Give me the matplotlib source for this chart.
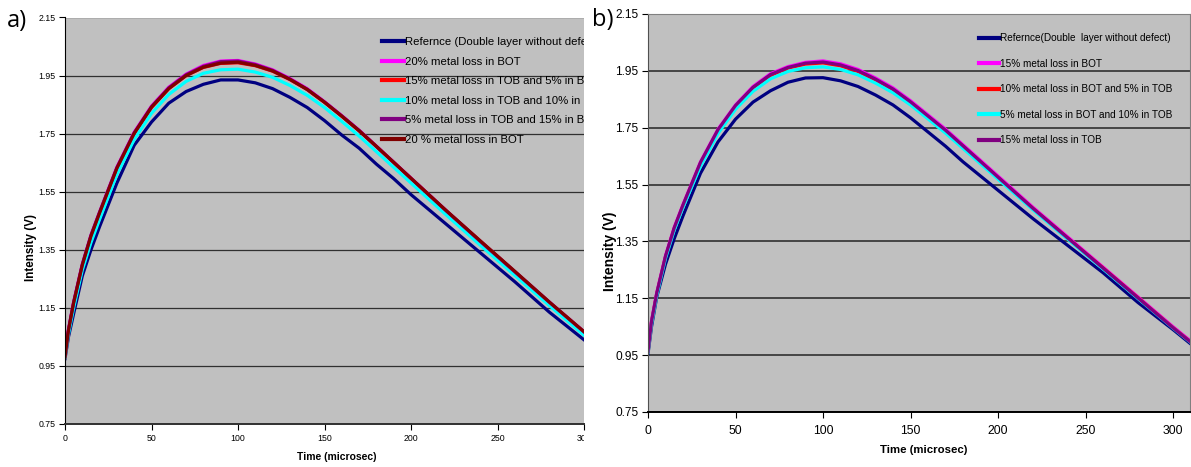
import matplotlib
matplotlib.use("Agg")
import matplotlib.pyplot as plt
from matplotlib.transforms import Bbox, TransformedBbox

#----data----
x_a = [0, 2, 5, 10, 15, 20, 30, 40, 50, 60, 70, 80, 90, 100, 110, 120, 130,
       140, 150, 160, 170, 180, 190, 200, 220, 240, 260, 280, 300]
ref_a = [0.975, 1.05, 1.13, 1.26, 1.35, 1.43, 1.58, 1.71, 1.79, 1.855, 1.895, 1.92,
         1.935, 1.935, 1.925, 1.905, 1.875, 1.84, 1.795, 1.745, 1.70, 1.645, 1.595,
         1.54, 1.44, 1.34, 1.24, 1.135, 1.04]
bot20_a = [0.985, 1.075, 1.17, 1.30, 1.40, 1.48, 1.635, 1.755, 1.845, 1.91, 1.955,
           1.985, 2.0, 2.002, 1.99, 1.97, 1.94, 1.905, 1.86, 1.812, 1.762, 1.707,
           1.652, 1.597, 1.487, 1.38, 1.275, 1.17, 1.068]
tob15_a = [0.98, 1.07, 1.165, 1.295, 1.395, 1.475, 1.63, 1.75, 1.84, 1.905, 1.95,
           1.978, 1.992, 1.994, 1.984, 1.965, 1.936, 1.902, 1.858, 1.81, 1.76, 1.706,
           1.651, 1.596, 1.486, 1.38, 1.274, 1.168, 1.066]
tob10_a = [0.98, 1.06, 1.15, 1.28, 1.375, 1.455, 1.61, 1.73, 1.82, 1.885, 1.93,
           1.958, 1.97, 1.972, 1.962, 1.944, 1.916, 1.882, 1.84, 1.792, 1.742, 1.688,
           1.634, 1.58, 1.472, 1.366, 1.262, 1.158, 1.056]
tob5_a = [0.985, 1.075, 1.17, 1.30, 1.40, 1.48, 1.633, 1.753, 1.843, 1.908, 1.953,
          1.982, 1.998, 2.0, 1.988, 1.968, 1.938, 1.903, 1.859, 1.811, 1.761, 1.706,
          1.651, 1.596, 1.486, 1.379, 1.274, 1.169, 1.067]
bot20b_a = [0.982, 1.072, 1.167, 1.297, 1.397, 1.477, 1.631, 1.751, 1.841, 1.905,
            1.95, 1.979, 1.993, 1.996, 1.985, 1.966, 1.937, 1.902, 1.858, 1.81, 1.76,
            1.706, 1.651, 1.596, 1.487, 1.381, 1.276, 1.170, 1.068]

x_b = [0, 2, 5, 10, 15, 20, 30, 40, 50, 60, 70, 80, 90, 100, 110, 120, 130, 140,
       150, 160, 170, 180, 190, 200, 220, 240, 260, 280, 300, 310]
ref_b = [0.955, 1.05, 1.155, 1.27, 1.36, 1.44, 1.59, 1.70, 1.78, 1.84, 1.88, 1.91,
         1.925, 1.926, 1.915, 1.895, 1.865, 1.83, 1.785, 1.735, 1.685, 1.63, 1.58,
         1.53, 1.43, 1.335, 1.24, 1.135, 1.04, 0.99]
bot15_b = [0.965, 1.07, 1.17, 1.30, 1.40, 1.48, 1.63, 1.745, 1.83, 1.895, 1.94,
           1.965, 1.98, 1.985, 1.975, 1.955, 1.925, 1.89, 1.845, 1.795, 1.745, 1.69,
           1.635, 1.58, 1.47, 1.365, 1.26, 1.155, 1.05, 1.0]
bot10_b = [0.962, 1.065, 1.165, 1.295, 1.395, 1.475, 1.625, 1.74, 1.825, 1.89,
           1.934, 1.96, 1.974, 1.978, 1.968, 1.948, 1.918, 1.883, 1.839, 1.789,
           1.739, 1.685, 1.63, 1.575, 1.466, 1.361, 1.257, 1.152, 1.047, 0.997]
bot5_b = [0.96, 1.06, 1.16, 1.29, 1.39, 1.47, 1.615, 1.73, 1.815, 1.878, 1.922,
          1.948, 1.961, 1.964, 1.955, 1.936, 1.907, 1.873, 1.83, 1.781, 1.731, 1.677,
          1.623, 1.569, 1.461, 1.357, 1.253, 1.149, 1.045, 0.995]
tob15_b = [0.963, 1.068, 1.168, 1.298, 1.398, 1.478, 1.628, 1.743, 1.828, 1.892,
           1.937, 1.962, 1.977, 1.981, 1.971, 1.951, 1.921, 1.886, 1.841, 1.791,
           1.741, 1.686, 1.631, 1.576, 1.466, 1.361, 1.256, 1.151, 1.046, 0.996]

labels_a = ["Refernce (Double layer without defect)", "20% metal loss in BOT",
            "15% metal loss in TOB and 5% in BOT", "10% metal loss in TOB and 10% in BOT",
            "5% metal loss in TOB and 15% in BOT", "20 % metal loss in BOT"]
labels_b = ["Refernce(Double  layer without defect)", "15% metal loss in BOT",
            "10% metal loss in BOT and 5% in TOB", "5% metal loss in BOT and 10% in TOB",
            "15% metal loss in TOB"]
colors_a = ["#000080", "#FF00FF", "#FF0000", "#00FFFF", "#800080", "#800000"]
colors_b = ["#000080", "#FF00FF", "#FF0000", "#00FFFF", "#800080"]
yticks = [0.75, 0.95, 1.15, 1.35, 1.55, 1.75, 1.95, 2.15]

REG = ["Liberation Sans", "DejaVu Sans"]

W, H = 1191, 467
fig = plt.figure(figsize=(W / 100, H / 100), dpi=100)
fig.patch.set_facecolor("white")


def px_axes(x0, y0, x1, y1):
    return fig.add_axes([x0 / W, 1 - y1 / H, (x1 - x0) / W, (y1 - y0) / H])


#----panel a----
axa = px_axes(65, 17.5, 584, 424)
axa.set_facecolor("#C0C0C0")
series_a = [ref_a, bot20_a, tob15_a, tob10_a, tob5_a, bot20b_a]
for ys, c, lab in zip(series_a, colors_a, labels_a):
    axa.plot(x_a, ys, color=c, lw=2.3, label=lab, solid_joinstyle="round")
axa.set_xlim(0, 300)
axa.set_ylim(0.75, 2.15)
axa.set_yticks(yticks)
axa.set_yticklabels(["%.2f" % v for v in yticks])
axa.set_xticks([0, 50, 100, 150, 200, 250, 300])
axa.yaxis.grid(True, color="#303030", lw=0.9)
axa.set_axisbelow(True)
for s in ["right", "top"]:
    axa.spines[s].set_visible(False)
axa.spines["left"].set_color("black")
axa.spines["bottom"].set_color("#303030")
axa.spines["bottom"].set_linewidth(1.4)
axa.tick_params(direction="out", length=4, width=0.8, labelsize=6.3, pad=3)
for t in axa.get_xticklabels() + axa.get_yticklabels():
    t.set_family(REG)
axa.set_xlabel("Time (microsec)", fontsize=7.5, fontweight="bold", family=REG)
axa.xaxis.set_label_coords(0.524, -0.07)
axa.set_ylabel("Intensity (V)", fontsize=8.4, fontweight="bold", family=REG)
axa.yaxis.set_label_coords(-0.054, 0.435)

clip_a = TransformedBbox(Bbox([[0, 0], [584 / W, 1]]), fig.transFigure)
for t in axa.get_xticklabels():
    t.set_clip_box(clip_a)
    t.set_clip_on(True)

leg_a = axa.legend(loc="upper left", bbox_to_anchor=(0.611, 0.951), frameon=False,
                   borderaxespad=0, borderpad=0, handlelength=1.9, handletextpad=0.15,
                   labelspacing=0.83, prop={"family": REG, "size": 8.2})
for ln in leg_a.get_lines():
    ln.set_linewidth(3)
for t in leg_a.get_texts():
    t.set_clip_box(clip_a)
    t.set_clip_on(True)

#----panel b----
axb = px_axes(648, 14, 1190, 412)
axb.set_facecolor("#C0C0C0")
series_b = [ref_b, bot15_b, bot10_b, bot5_b, tob15_b]
for ys, c, lab in zip(series_b, colors_b, labels_b):
    axb.plot(x_b, ys, color=c, lw=2.3, label=lab, solid_joinstyle="round")
axb.set_xlim(0, 309.7)
axb.set_ylim(0.75, 2.15)
axb.set_yticks(yticks)
axb.set_yticklabels(["%.2f" % v for v in yticks])
axb.set_xticks([0, 50, 100, 150, 200, 250, 300])
axb.yaxis.grid(True, color="#303030", lw=1.2)
axb.set_axisbelow(True)
for s in ["right", "top"]:
    axb.spines[s].set_color("#808080")
axb.spines["left"].set_color("#505050")
axb.spines["bottom"].set_color("black")
axb.spines["bottom"].set_linewidth(1.4)
axb.tick_params(direction="out", length=4, width=0.8)
axb.tick_params(axis="y", labelsize=8.6, pad=3)
axb.tick_params(axis="x", labelsize=8.8, pad=5)
for t in axb.get_xticklabels() + axb.get_yticklabels():
    t.set_family(REG)
axb.set_xlabel("Time (microsec)", fontsize=8.2, fontweight="bold", family=REG)
axb.xaxis.set_label_coords(0.509, -0.083)
axb.set_ylabel("Intensity (V)", fontsize=10, fontweight="bold", family=REG)
axb.yaxis.set_label_coords(-0.058, 0.405)

leg_b = axb.legend(loc="upper left", bbox_to_anchor=(0.611, 0.952), frameon=False,
                   borderaxespad=0, borderpad=0, handlelength=2.0, handletextpad=0.1,
                   labelspacing=1.55, prop={"family": REG, "size": 7.2})
for ln in leg_b.get_lines():
    ln.set_linewidth(3)

#----panel letters----
fig.text(7 / W, 1 - 21 / H, "a)", fontsize=17, family=["Open Sans", "DejaVu Sans"],
         va="center", ha="left")
fig.text(592 / W, 1 - 20 / H, "b)", fontsize=17, family=["Open Sans", "DejaVu Sans"],
         va="center", ha="left")

fig.savefig("out.png", dpi=100, facecolor="white")
